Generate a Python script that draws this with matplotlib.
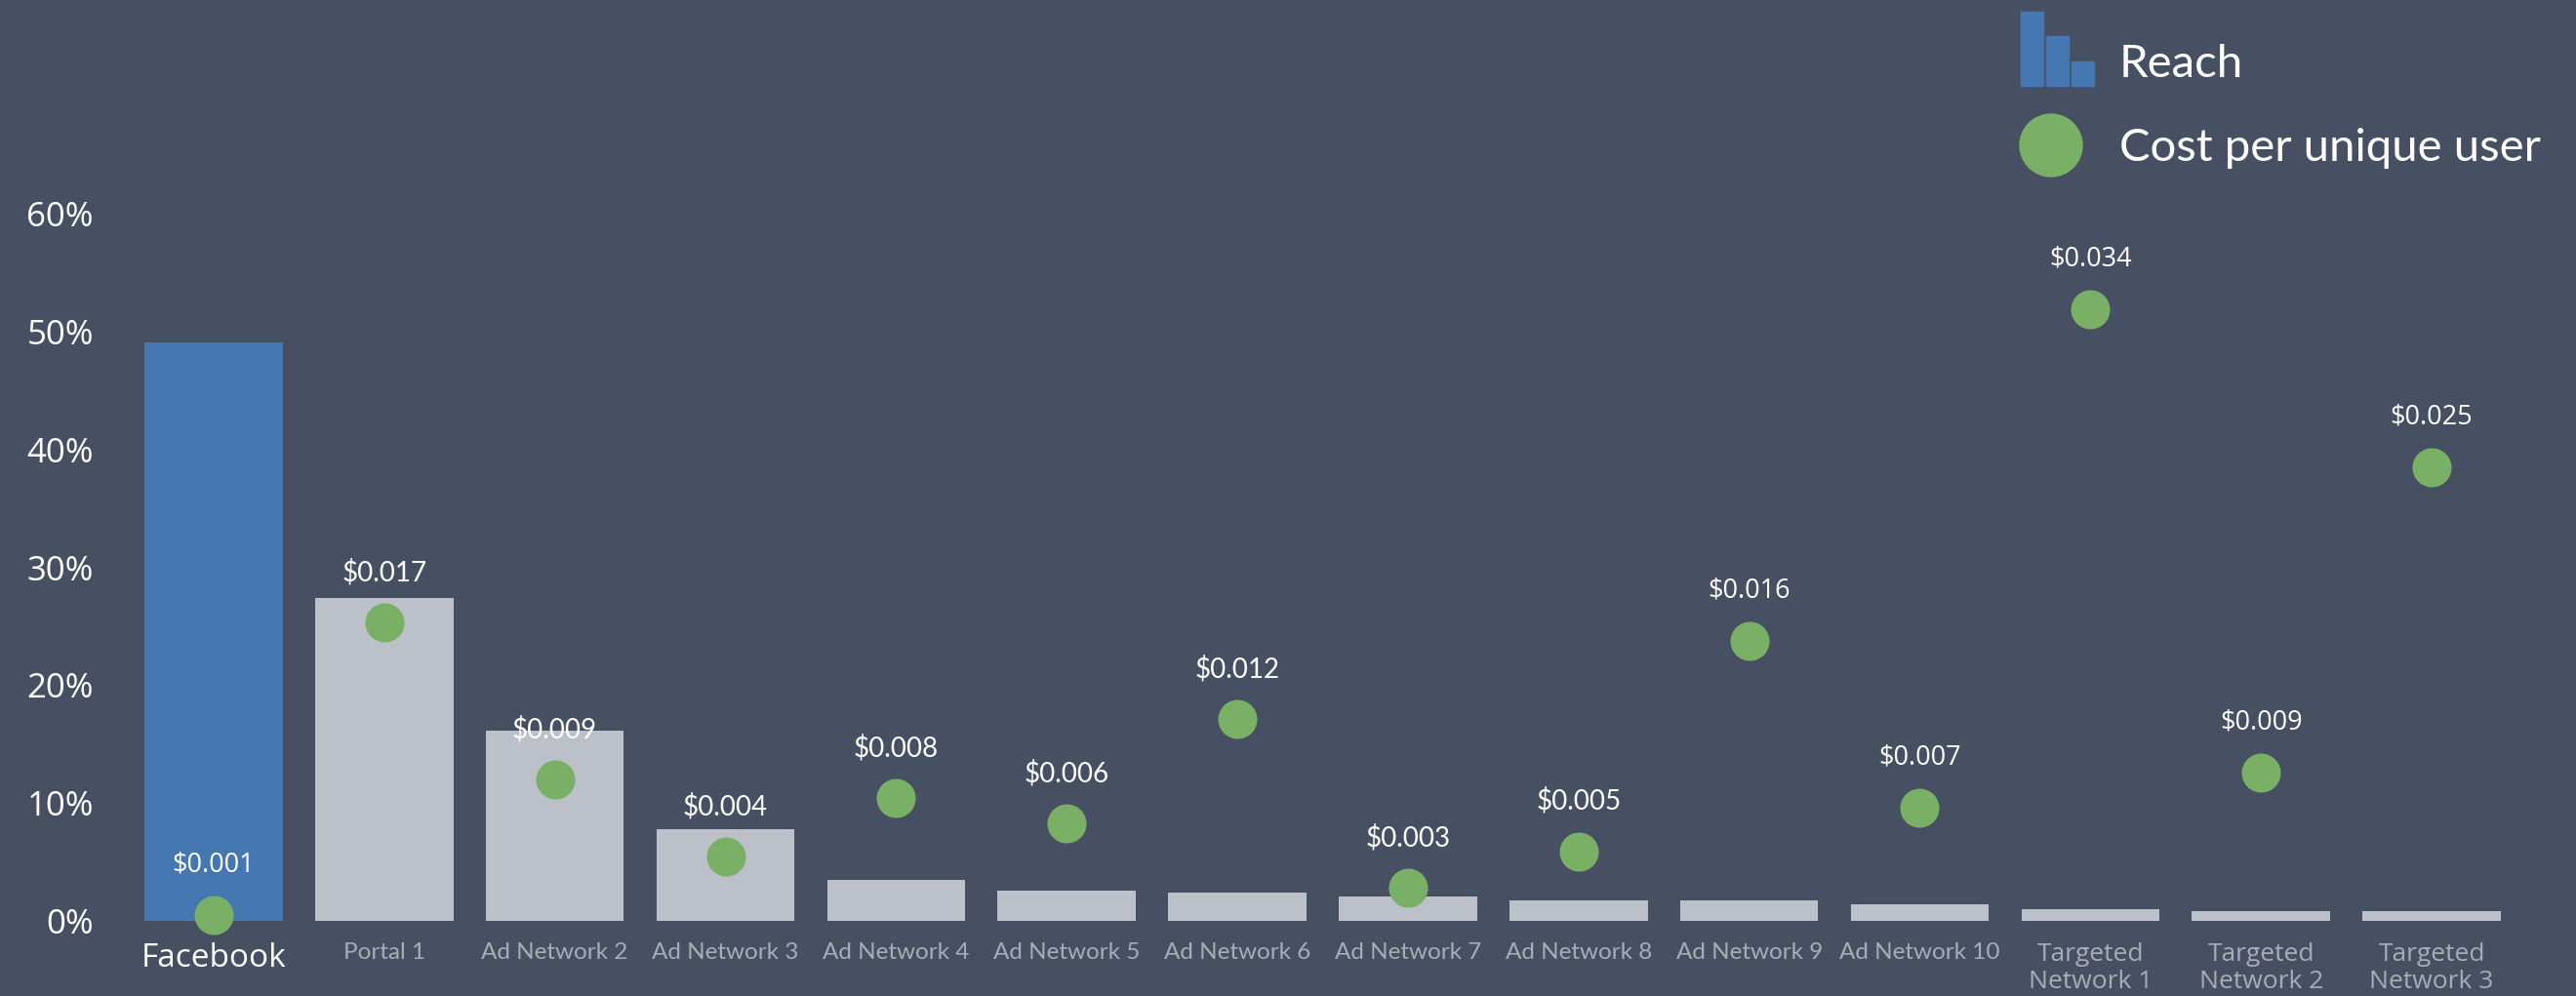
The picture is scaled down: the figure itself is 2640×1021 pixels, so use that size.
import matplotlib.pyplot as plt
from matplotlib.patches import Rectangle, Ellipse

plt.rcParams['font.family'] = ['Lato', 'DejaVu Sans']
WIDE = ['Open Sans', 'DejaVu Sans']

# data
networks = ['Facebook', 'Portal 1', 'Ad Network 2', 'Ad Network 3', 'Ad Network 4',
            'Ad Network 5', 'Ad Network 6', 'Ad Network 7', 'Ad Network 8', 'Ad Network 9',
            'Ad Network 10', 'Targeted\nNetwork 1', 'Targeted\nNetwork 2', 'Targeted\nNetwork 3']
reach = [0.491, 0.274, 0.161, 0.078, 0.035, 0.026, 0.024, 0.021, 0.017, 0.017,
         0.014, 0.010, 0.008, 0.008]
# dot heights as drawn, and the labels printed over them
cost = [0.0010, 0.0170, 0.0084, 0.0042, 0.0074, 0.0060, 0.0117, 0.0025, 0.0045, 0.0160,
        0.0069, 0.0341, 0.0088, 0.0255]
cost_labels = ['$0.001', '$0.017', '$0.009', '$0.004', '$0.008', '$0.006', '$0.012',
               '$0.003', '$0.005', '$0.016', '$0.007', '$0.034', '$0.009', '$0.025']
# which labels use the wider typeface in the original
wide_label = [True, False, False, False, False, False, False,
              False, False, True, True, True, True, True]
yticks = [0, 0.1, 0.2, 0.3, 0.4, 0.5, 0.6]

bg = '#475062'
blue = '#4577b1'
grey = '#bcc0c8'
green = '#79b066'
label_grey = '#a7acb6'

fig = plt.figure(figsize=(26.4, 10.21), dpi=100, facecolor=bg)
ax = fig.add_axes([0.0432, 0.0754, 0.9405, 0.7101])
ax.set_facecolor(bg)

x = list(range(len(networks)))
colors = [blue] + [grey] * (len(networks) - 1)
ax.bar(x, reach, width=0.81, color=colors, zorder=2)
ax.set_xlim(-0.6, len(networks) - 0.4)
ax.set_ylim(0, 0.6)
ax.set_yticks(yticks)
ax.set_yticklabels([f'{int(round(t * 100))}%' for t in yticks], family=WIDE)
ax.tick_params(axis='y', length=0, pad=13, labelsize=25, labelcolor='white')
ax.set_xticks(x)
ax.set_xticklabels(networks)
ax.tick_params(axis='x', length=0, pad=16, labelsize=17.5, labelcolor=label_grey)
for i, lab in enumerate(ax.get_xticklabels()):
    if i == 0:
        lab.set_color('white')
        lab.set_fontsize(24)
        lab.set_family(WIDE)
    elif 'Targeted' in networks[i]:
        lab.set_family(WIDE)
        lab.set_fontsize(19)
        lab.set_linespacing(1.15)
for s in ax.spines.values():
    s.set_visible(False)

# cost per unique user on a hidden second scale
ax2 = ax.twinx()
ax2.set_ylim(0.00069, 0.03934)
ax2.axis('off')
ax2.scatter(x, cost, s=830, color=green, zorder=3, clip_on=False, linewidths=0)
for xi, c, txt, w in zip(x, cost, cost_labels, wide_label):
    ax2.annotate(txt, (xi, c), xytext=(0, 37), textcoords='offset points',
                 ha='center', va='center', color='white',
                 fontsize=19.5 if w else 20, family=WIDE if w else None)

# legend drawn by hand
for bx, top in [(2071, 12), (2097, 37), (2123, 63)]:
    fig.patches.append(Rectangle((bx / 2640, 1 - 88 / 1021), 23 / 2640, (88 - top) / 1021,
                                 transform=fig.transFigure, color=blue))
fig.patches.append(Ellipse((2102 / 2640, 1 - 149 / 1021), 64 / 2640, 64 / 1021,
                           transform=fig.transFigure, color=green))
fig.text(2172 / 2640, 1 - 66 / 1021, 'Reach', color='white', fontsize=34, va='center')
fig.text(2172 / 2640, 1 - 152 / 1021, 'Cost per unique user', color='white', fontsize=34,
         va='center')

fig.savefig('out.png', dpi=100, facecolor=bg)
